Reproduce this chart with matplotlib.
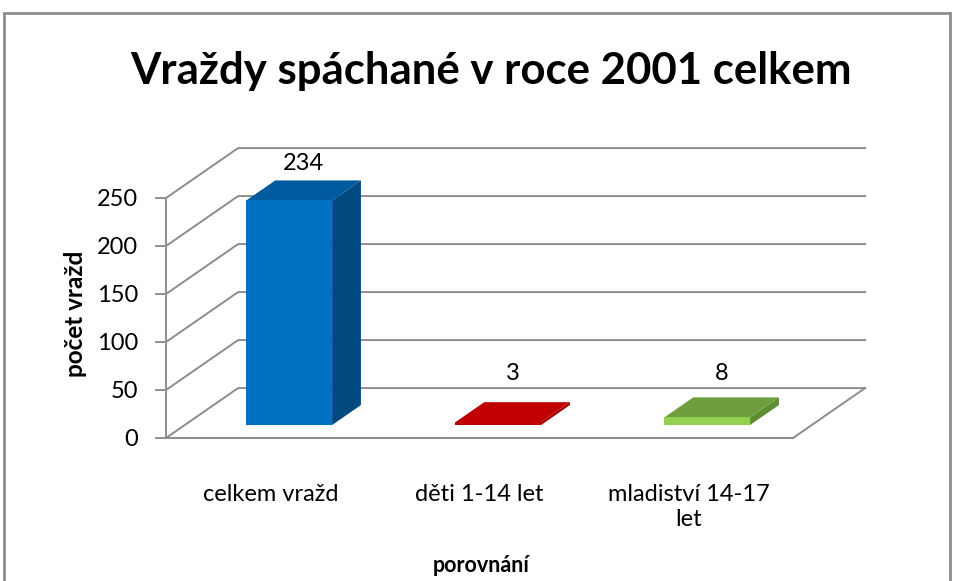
import matplotlib.pyplot as plt
from matplotlib.patches import Polygon, Rectangle

plt.rcParams['font.family'] = ['Lato', 'DejaVu Sans']

categories = ['celkem vražd', 'děti 1-14 let', 'mladiství 14-17\nlet']
values = [234, 3, 8]
yticks = [0, 50, 100, 150, 200, 250]

front_colors = ['#0070C0', '#C00000', '#92D050']
top_colors = ['#005A9E', '#C00000', '#6E9E3E']
side_colors = ['#004A80', '#A00000', '#5E8C30']

# oblique projection: depth 1 = full depth of the floor
DX = 0.345   # category units per full depth
DY = 52.0    # value units per full depth


def proj(x, y, z):
    return (x + z * DX, y + z * DY)


fig = plt.figure(figsize=(9.55, 5.81), dpi=100)
ax = fig.add_axes([0, 0, 1, 1])
ax.set_xlim(-166 / 209, (955 - 166) / 209)
ax.set_ylim(-143 / 0.96, (581 - 143) / 0.96)
ax.patch.set_visible(False)

grid_c = '#8C8C8C'
# walls: gridlines on left wall and back wall
for v in yticks:
    x0, y0 = proj(0, v, 0)
    x1, y1 = proj(0, v, 1)
    x2, y2 = proj(len(categories), v, 1)
    ax.plot([x0, x1, x2], [y0, y1, y2], color=grid_c, lw=1.4, zorder=1)
# floor right edge
xa, ya = proj(len(categories), 0, 0)
xb, yb = proj(len(categories), 0, 1)
ax.plot([xa, xb], [ya, yb], color=grid_c, lw=1.4, zorder=1)

# axes spines placed on the front plane
for s in ['top', 'right']:
    ax.spines[s].set_visible(False)
ax.spines['left'].set_position(('data', 0))
ax.spines['left'].set_bounds(0, 250)
ax.spines['bottom'].set_position(('data', 0))
ax.spines['bottom'].set_bounds(0, len(categories))
for s in ['left', 'bottom']:
    ax.spines[s].set_color(grid_c)
    ax.spines[s].set_linewidth(1.4)
ax.set_yticks(yticks)
ax.tick_params(axis='y', length=8, width=1.4, color=grid_c, labelsize=17, pad=12)
ax.set_xticks([i + 0.5 for i in range(len(categories))])
ax.set_xticklabels(categories, linespacing=1.25)
ax.tick_params(axis='x', length=0, labelsize=17, pad=33)

# 3D bars
w = 0.41
z0, z1 = 0.26, 0.66
for i, (v, fc, tc, sc) in enumerate(zip(values, front_colors, top_colors, side_colors)):
    xl = i + 0.5 - w / 2
    xr = i + 0.5 + w / 2
    front = [proj(xl, 0, z0), proj(xr, 0, z0), proj(xr, v, z0), proj(xl, v, z0)]
    side = [proj(xr, 0, z0), proj(xr, 0, z1), proj(xr, v, z1), proj(xr, v, z0)]
    top = [proj(xl, v, z0), proj(xr, v, z0), proj(xr, v, z1), proj(xl, v, z1)]
    ax.add_patch(Polygon(side, closed=True, fc=sc, ec='none', zorder=3))
    ax.add_patch(Polygon(top, closed=True, fc=tc, ec='none', zorder=3))
    ax.add_patch(Polygon(front, closed=True, fc=fc, ec='none', zorder=4))
    lx, ly = proj(i + 0.5, max(v, 15), (z0 + z1) / 2)
    ax.annotate(str(v), (lx, ly), xytext=(0, 12), textcoords='offset points',
                ha='center', va='bottom', fontsize=17)

fig.text(0.514, 0.878, 'Vraždy spáchané v roce 2001 celkem', ha='center', va='center',
         fontsize=31.5, fontweight='bold')
fig.text(0.079, 0.46, 'počet vražd', rotation=90, ha='center', va='center',
         fontsize=17.5, fontweight='bold')
fig.text(0.504, 0.026, 'porovnání', ha='center', va='center',
         fontsize=15.5, fontweight='bold')

# chart border
fig.patches.append(Rectangle((4 / 955, -0.1), 946 / 955, 1.1 - 13 / 581,
                             transform=fig.transFigure, fill=False,
                             ec='#8C8C8C', lw=2))

fig.savefig('out.png', dpi=100)
